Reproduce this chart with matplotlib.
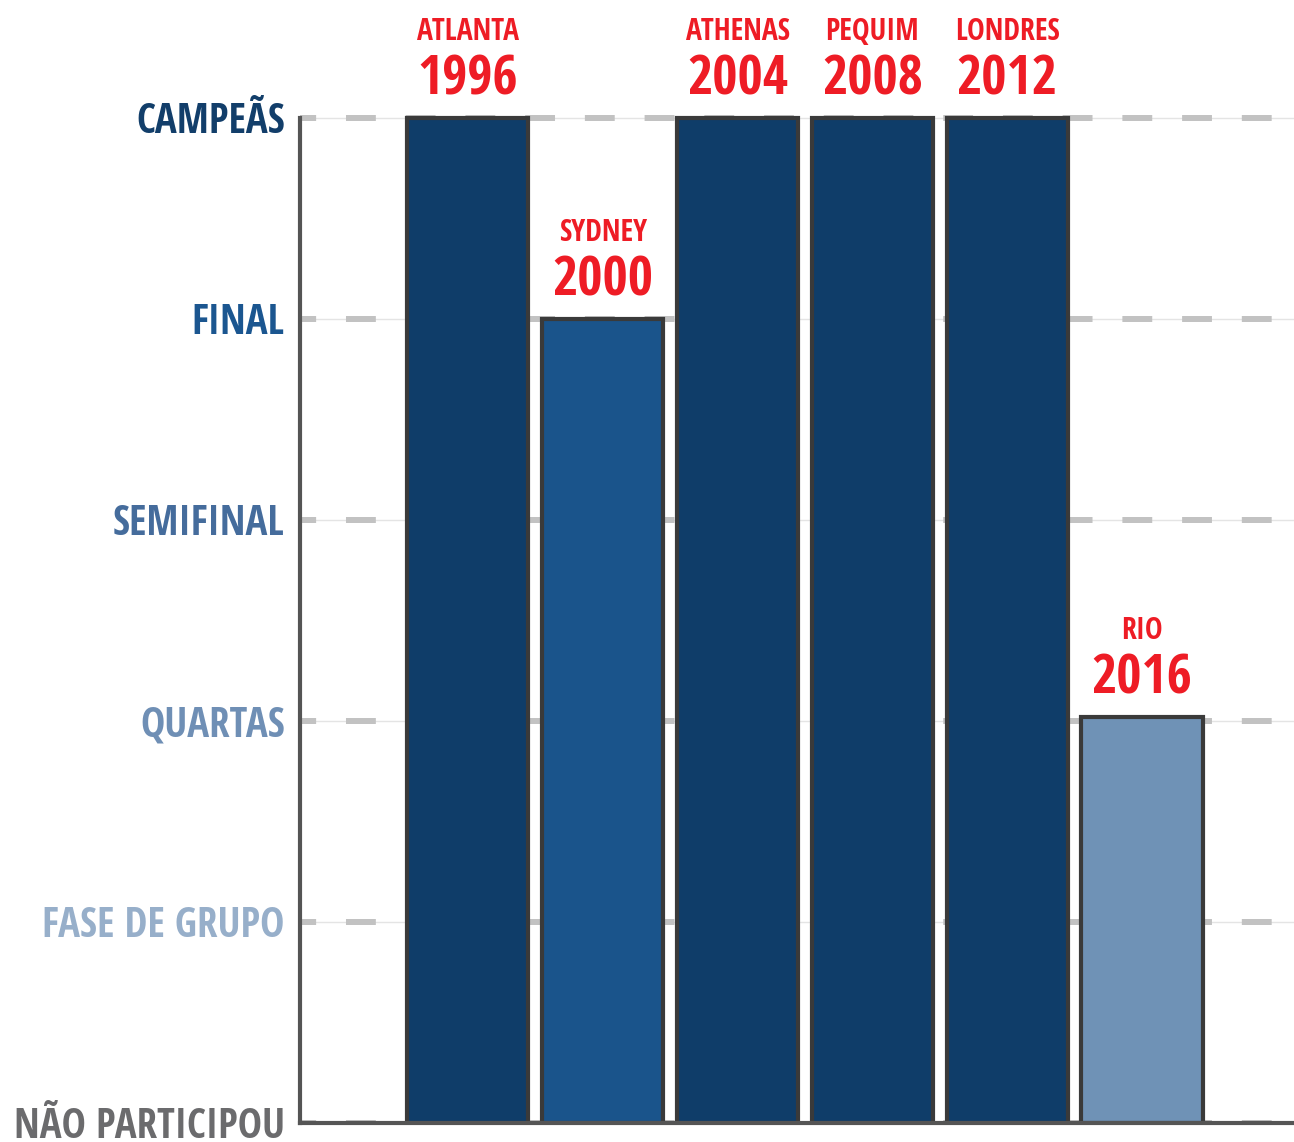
import matplotlib
matplotlib.use("Agg")
import matplotlib.pyplot as plt
from matplotlib import font_manager
from matplotlib.font_manager import FontProperties

# data
cities = ["ATLANTA", "SYDNEY", "ATHENAS", "PEQUIM", "LONDRES", "RIO"]
years = ["1996", "2000", "2004", "2008", "2012", "2016"]
stage = [5, 4, 5, 5, 5, 2.02]
level_labels = ["NÃO PARTICIPOU", "FASE DE GRUPO", "QUARTAS", "SEMIFINAL", "FINAL", "CAMPEÃS"]

bar_colors = ["#0f3d69", "#1a548b", "#0f3d69", "#0f3d69", "#0f3d69", "#6f92b6"]
level_colors = ["#6b6b6d", "#97afca", "#6f8fb5", "#456c9c", "#1b5690", "#123e6a"]
red = "#ee1c25"


def pick_condensed_bold():
    prefs = ["Open Sans Condensed", "Roboto Condensed", "Noto Sans Condensed",
             "Liberation Sans Narrow", "DejaVu Sans Condensed"]
    found = {}
    for f in font_manager.fontManager.ttflist:
        w = f.weight
        if isinstance(w, str):
            w = 700 if "bold" in w.lower() else 400
        narrow = ("Narrow" in f.name or "Condensed" in f.name
                  or "condensed" in str(f.stretch)
                  or "Condensed" in f.fname or "Narrow" in f.fname)
        if narrow and 650 <= w <= 800 and f.style == "normal":
            found.setdefault(f.name, f.fname)
    for p in prefs:
        if p in found:
            return FontProperties(fname=found[p])
    if found:
        return FontProperties(fname=list(found.values())[0])
    return FontProperties(family="DejaVu Sans", weight="bold")


fp = pick_condensed_bold()

fig = plt.figure(figsize=(12.94, 11.42), dpi=100)
ax = fig.add_axes([300 / 1294, 19 / 1142, 994 / 1294, 1123 / 1142])
renderer = fig.canvas.get_renderer()


def size_for(text, width_px, base=20):
    t = fig.text(0, 0, text, fontproperties=fp, fontsize=base)
    w = t.get_window_extent(renderer).width
    t.remove()
    return base * width_px / w


axis_size = size_for("NÃO PARTICIPOU", 271)
year_size = size_for("2000", 101)
city_size = size_for("ATLANTA", 102)

xs = list(range(len(cities)))

# grid: thin solid line + thick dashes
for lvl in range(len(level_labels)):
    ax.axhline(lvl, color="#e4e4e4", lw=1, zorder=0)
    ax.axhline(lvl, color="#c2c2c2", lw=4.3, zorder=0.5,
               linestyle=(2.3, (5, 5)))

ax.bar(xs, stage, width=0.9, color=bar_colors, edgecolor="#3a3a3a",
       linewidth=3, zorder=2)

for x, h, c, y in zip(xs, stage, cities, years):
    ax.annotate(y, (x, h), xytext=(0, 37), textcoords="offset pixels",
                ha="center", va="center", color=red, fontsize=year_size,
                fontproperties=fp)
    ax.annotate(c, (x, h), xytext=(0, 86), textcoords="offset pixels",
                ha="center", va="center", color=red, fontsize=city_size,
                fontproperties=fp)

ax.set_xlim(-1.244, 6.126)
ax.set_ylim(0, 5.587)
ax.set_xticks([])
ax.set_yticks(range(len(level_labels)))
ax.set_yticklabels(level_labels)
for lab, col in zip(ax.get_yticklabels(), level_colors):
    lab.set_fontproperties(fp)
    lab.set_fontsize(axis_size)
    lab.set_color(col)
ax.tick_params(axis="y", length=0, pad=11)

for s in ["top", "right"]:
    ax.spines[s].set_visible(False)
ax.spines["left"].set_bounds(0, 5)
for s in ["left", "bottom"]:
    ax.spines[s].set_color("#555555")
    ax.spines[s].set_linewidth(3)
    ax.spines[s].set_zorder(3)

plt.savefig("out.png", dpi=100)
